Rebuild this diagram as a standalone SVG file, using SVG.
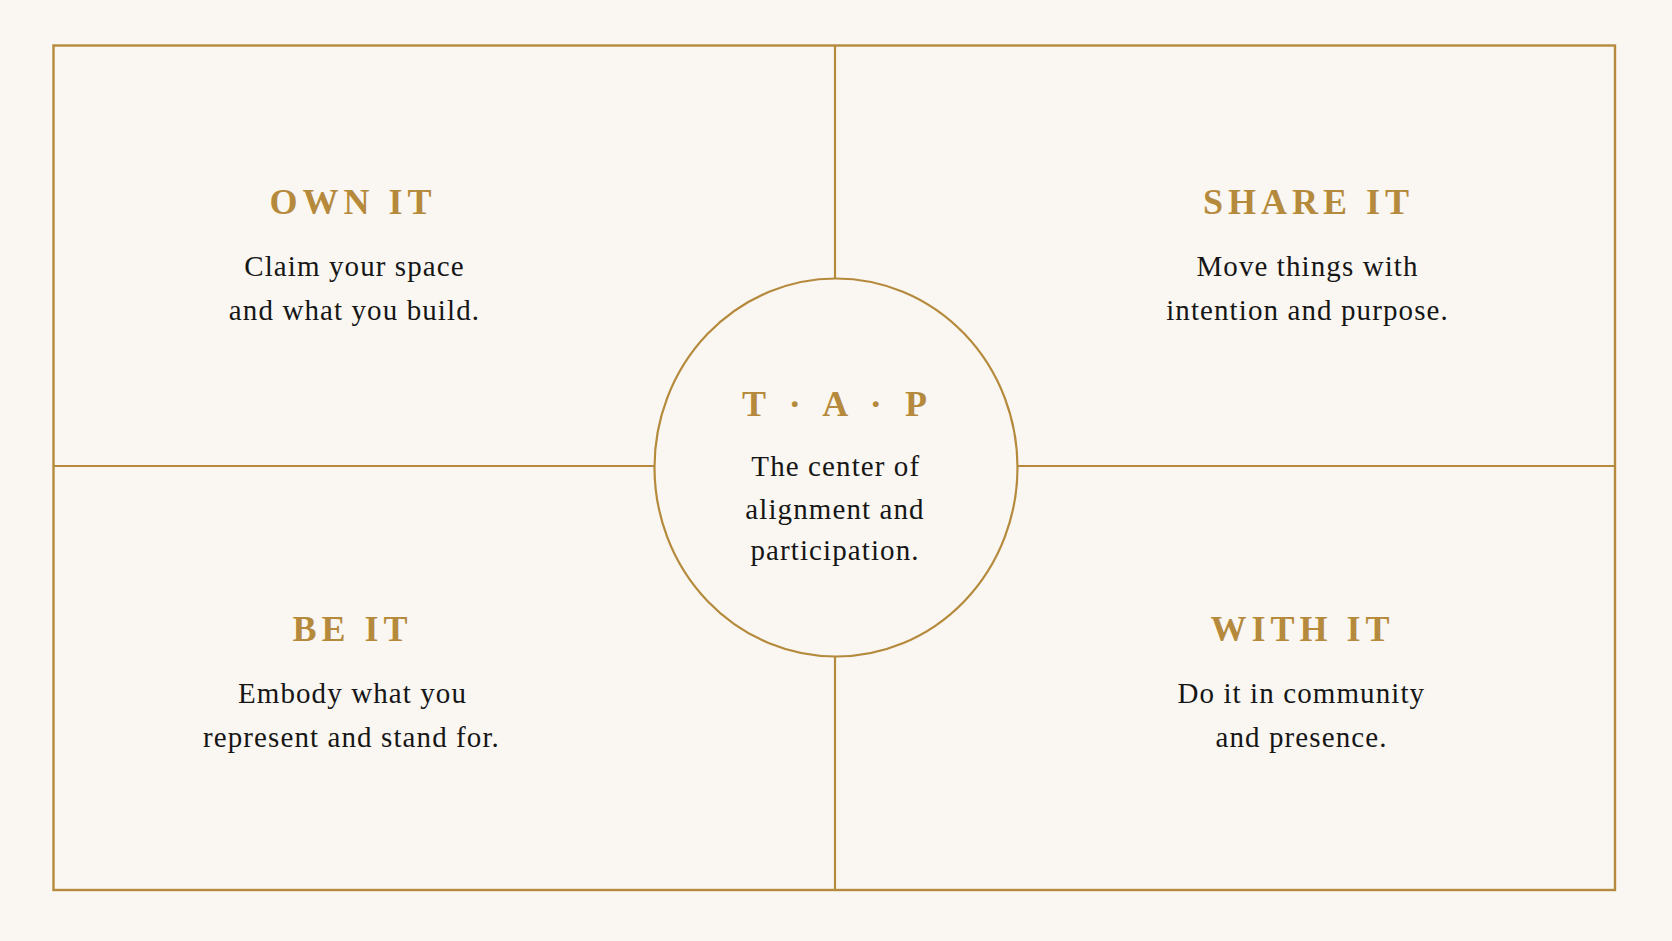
<svg xmlns="http://www.w3.org/2000/svg" width="1672" height="941" viewBox="0 0 1672 941">
  <style>
    .frame { fill: none; stroke: #B58A3C; stroke-width: 2.4; }
    .line { stroke: #B58A3C; stroke-width: 2.2; fill: none; }
    .title { font-family: "Liberation Serif", "Times New Roman", serif; font-weight: bold; font-size: 36px; letter-spacing: 5px; fill: #B58A3C; text-anchor: middle; }
    .body { font-family: "Liberation Serif", "Times New Roman", serif; font-size: 29px; letter-spacing: 1.1px; fill: #161616; text-anchor: middle; }
  </style>
  <rect x="0" y="0" width="1672" height="941" fill="#FAF7F2"/>
  <g id="connectors">
    <rect class="frame" x="53.5" y="45.5" width="1561.5" height="844.5"/>
    <line class="line" x1="835" y1="45.5" x2="835" y2="278.5"/>
    <line class="line" x1="835" y1="656.5" x2="835" y2="890"/>
    <line class="line" x1="53.5" y1="466" x2="654.5" y2="466"/>
    <line class="line" x1="1017.5" y1="466" x2="1615" y2="466"/>
  </g>
  <g id="own-it">
    <text class="title" x="353" y="214">OWN IT</text>
    <text class="body" x="354.5" y="276">Claim your space</text>
    <text class="body" x="354.5" y="320">and what you build.</text>
  </g>
  <g id="share-it">
    <text class="title" x="1308.5" y="214">SHARE IT</text>
    <text class="body" x="1307.5" y="276">Move things with</text>
    <text class="body" x="1307.5" y="319.5">intention and purpose.</text>
  </g>
  <g id="be-it">
    <text class="title" x="352.5" y="641">BE IT</text>
    <text class="body" x="352.5" y="703">Embody what you</text>
    <text class="body" x="351.5" y="746.5">represent and stand for.</text>
  </g>
  <g id="with-it">
    <text class="title" x="1302.5" y="641">WITH IT</text>
    <text class="body" x="1301.3" y="703">Do it in community</text>
    <text class="body" x="1301.5" y="746.5">and presence.</text>
  </g>
  <g id="tap">
    <ellipse class="line" cx="836" cy="467.5" rx="181.5" ry="189"/>
    <text class="title" x="838.2" y="415.5" style="letter-spacing:7.2px">T · A · P</text>
    <text class="body" x="835.8" y="476">The center of</text>
    <text class="body" x="835" y="518.5">alignment and</text>
    <text class="body" x="835" y="560">participation.</text>
  </g>
</svg>
